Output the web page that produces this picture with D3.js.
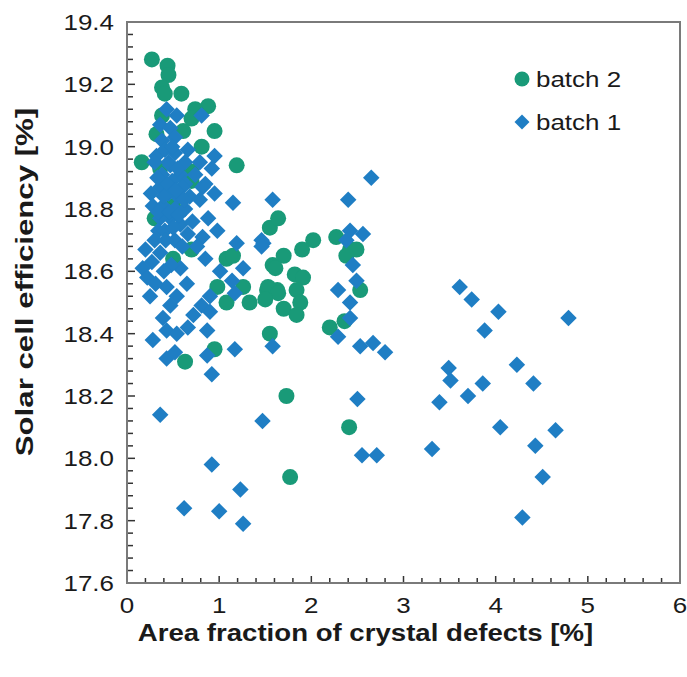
<!DOCTYPE html>
<html>
<head>
<meta charset="utf-8">
<script src="https://cdn.jsdelivr.net/npm/d3@7/dist/d3.min.js"></script>
<style>
body{margin:0;background:#fff;}
text{font-family:"Liberation Sans",Arial,sans-serif;fill:#1a1a1a;}
</style>
</head>
<body>
<svg id="chart" width="687" height="677"></svg>
<script>
// batch 2 : [area fraction %, efficiency %]
const batch2 = [
 [0.27,19.28],[0.44,19.26],[0.45,19.23],[0.38,19.19],[0.41,19.17],[0.59,19.17],
 [0.88,19.13],[0.74,19.12],[0.70,19.09],[0.95,19.05],[0.32,19.04],[0.61,19.05],
 [0.81,19.00],[0.16,18.95],[1.19,18.94],[0.36,18.93],[0.70,18.92],[0.38,19.10],
 [0.70,18.89],[0.30,18.77],[0.50,18.81],[0.70,18.67],[0.50,18.64],[1.08,18.64],
 [1.15,18.65],[1.55,18.74],[1.64,18.77],[1.58,18.62],[0.98,18.55],[1.26,18.55],
 [1.08,18.50],[1.33,18.50],[1.52,18.54],[1.63,18.54],[1.55,18.40],[0.95,18.35],
 [0.63,18.31],[2.02,18.70],[1.90,18.67],[2.27,18.71],[2.42,18.67],[2.49,18.67],
 [2.38,18.65],[1.70,18.65],[1.61,18.61],[1.82,18.59],[1.91,18.58],[1.53,18.55],
 [1.64,18.53],[1.84,18.54],[1.50,18.51],[1.88,18.50],[1.70,18.48],[1.84,18.46],
 [2.53,18.54],[2.20,18.42],[2.36,18.44],[1.73,18.20],[1.77,17.94],[2.41,18.10]
];

// batch 1 : [area fraction %, efficiency %]
const batch1 = [
 [0.43,19.12],[0.36,19.07],[0.54,19.10],[0.81,19.10],[0.47,19.06],[0.38,19.02],
 [0.52,19.03],[0.95,18.97],[0.32,18.97],[0.41,18.99],[0.52,18.98],[0.49,19.00],
 [0.66,18.99],[0.63,18.95],[0.79,18.95],[0.92,18.93],[0.38,18.91],[0.47,18.94],
 [0.58,18.91],[0.74,18.91],[0.49,18.89],[0.85,18.88],[0.63,18.88],[0.60,18.87],
 [0.36,18.87],[0.82,18.87],[0.26,18.85],[0.95,18.85],[1.15,18.82],[1.58,18.83],
 [0.45,18.85],[0.55,18.84],[0.68,18.84],[0.79,18.83],[0.28,18.81],[0.39,18.81],
 [0.52,18.80],[0.63,18.80],[0.47,18.77],[0.36,18.77],[0.58,18.75],[0.71,18.76],
 [0.88,18.77],[0.98,18.73],[0.34,18.73],[0.41,18.73],[0.66,18.72],[0.52,18.70],
 [0.30,18.70],[0.82,18.71],[1.19,18.69],[1.48,18.69],[0.20,18.67],[0.36,18.66],
 [0.76,18.68],[0.85,18.64],[1.26,18.61],[0.17,18.61],[0.58,18.61],[1.01,18.60],
 [0.22,18.58],[0.43,18.55],[1.14,18.57],[0.65,18.56],[1.17,18.53],[0.25,18.52],
 [0.54,18.52],[0.90,18.52],[0.47,18.49],[0.81,18.49],[0.39,18.45],[0.72,18.46],
 [0.90,18.47],[0.66,18.42],[0.43,18.41],[0.54,18.40],[0.87,18.41],[0.28,18.38],
 [1.58,18.36],[1.17,18.35],[0.43,18.32],[0.52,18.34],[0.87,18.33],[0.92,18.27],
 [0.30,18.95],[0.45,18.95],[0.55,18.93],[0.33,18.90],[0.44,18.88],[0.53,18.86],
 [0.40,18.84],[0.62,18.83],[0.34,18.79],[0.46,18.79],[0.56,18.78],[0.42,18.70],
 [0.50,18.74],[0.60,18.68],[0.27,18.63],[0.48,18.62],[0.31,18.56],[0.40,18.60],
 [2.65,18.90],[2.40,18.83],[1.46,18.70],[1.46,18.68],[2.42,18.73],[2.56,18.72],
 [2.38,18.70],[2.45,18.62],[2.49,18.57],[2.29,18.54],[2.42,18.50],[2.42,18.45],
 [2.29,18.39],[2.53,18.36],[2.67,18.37],[3.61,18.55],[3.74,18.51],[4.03,18.47],
 [3.88,18.41],[4.79,18.45],[2.80,18.34],[3.49,18.29],[3.51,18.25],[4.23,18.30],
 [4.41,18.24],[3.86,18.24],[3.70,18.20],[3.39,18.18],[4.05,18.10],[4.65,18.09],
 [4.43,18.04],[3.31,18.03],[4.51,17.94],[4.29,17.81],[2.71,18.01],[2.55,18.01],
 [2.50,18.19],[0.36,18.14],[1.47,18.12],[0.92,17.98],[1.23,17.90],[0.62,17.84],
 [1.00,17.83],[1.26,17.79]
];

const xTicks = [0,1,2,3,4,5,6];
const yTicks = [17.6,17.8,18.0,18.2,18.4,18.6,18.8,19.0,19.2,19.4];
const seriesNames = ["batch 2","batch 1"];
const seriesColors = ["#199a78","#1f7ec4"];
const xTitle = "Area fraction of crystal defects [%]";
const yTitle = "Solar cell efficiency [%]";

const svg = d3.select("#chart");
const m = {left:127, right:680, top:22, bottom:583};
const stretch = 1.18;

const x = d3.scaleLinear().domain([0,6]).range([m.left, m.right]);
const y = d3.scaleLinear().domain([17.6,19.4]).range([m.bottom, m.top]);

// minor + major ticks, pointing inward
const gx = svg.append("g");
gx.selectAll("line.xt").data(d3.range(0,6.001,0.2)).enter().append("line")
  .attr("x1",d=>x(d)).attr("x2",d=>x(d))
  .attr("y1",m.bottom).attr("y2",d=>Math.abs(d-Math.round(d))<1e-6 ? m.bottom-7 : m.bottom-5)
  .attr("stroke","#333").attr("stroke-width",1.5);
gx.selectAll("line.yt").data(d3.range(17.6,19.401,0.04)).enter().append("line")
  .attr("y1",d=>y(d)).attr("y2",d=>y(d))
  .attr("x1",m.left).attr("x2",(d,i)=>i%5==0 ? m.left+8 : m.left+6)
  .attr("stroke","#333").attr("stroke-width",1.5);

// frame
svg.append("rect").attr("x",m.left).attr("y",m.top)
  .attr("width",m.right-m.left).attr("height",m.bottom-m.top)
  .attr("fill","none").attr("stroke","#7a7a7a").attr("stroke-width",2);

// tick labels
svg.selectAll("g.xl").data(xTicks).enter().append("g")
  .attr("transform",d=>`translate(${x(d)},${m.bottom+30}) scale(${stretch},1)`)
  .append("text").attr("text-anchor","middle").attr("font-size",22).text(d=>d);
svg.selectAll("g.yl").data(yTicks).enter().append("g")
  .attr("transform",d=>`translate(${m.left-13},${y(d)+8}) scale(${stretch},1)`)
  .append("text").attr("text-anchor","end").attr("font-size",22).text(d=>d.toFixed(1));

// titles
svg.append("g").attr("transform",`translate(${(m.left+m.right)/2-38},${m.bottom+58}) scale(1.15,1)`)
  .append("text").attr("text-anchor","middle").attr("font-size",24).attr("font-weight","bold").text(xTitle);
svg.append("g").attr("transform",`translate(33,282) rotate(-90) scale(1.3,1)`)
  .append("text").attr("text-anchor","middle").attr("font-size",24).attr("font-weight","bold").text(yTitle);

// markers
const diamond = d3.symbol(d3.symbolSquare, 136);
svg.append("g").selectAll("circle").data(batch2).enter().append("circle")
  .attr("cx",d=>x(d[0])).attr("cy",d=>y(d[1])).attr("r",8)
  .attr("fill",seriesColors[0]);
svg.append("g").selectAll("path").data(batch1).enter().append("path")
  .attr("d",diamond)
  .attr("transform",d=>`translate(${x(d[0])},${y(d[1])}) rotate(45)`)
  .attr("fill",seriesColors[1]);

// legend
const lg = svg.append("g").attr("transform","translate(522,79)");
lg.append("circle").attr("cx",0).attr("cy",0).attr("r",7.5).attr("fill",seriesColors[0]);
lg.append("path").attr("d",d3.symbol(d3.symbolSquare,112))
  .attr("transform","translate(0,43) rotate(45)").attr("fill",seriesColors[1]);
seriesNames.forEach((s,i)=>{
  lg.append("g").attr("transform",`translate(14,${i*43+8}) scale(${stretch},1)`)
    .append("text").attr("font-size",22).text(s);
});
</script>
</body>
</html>
